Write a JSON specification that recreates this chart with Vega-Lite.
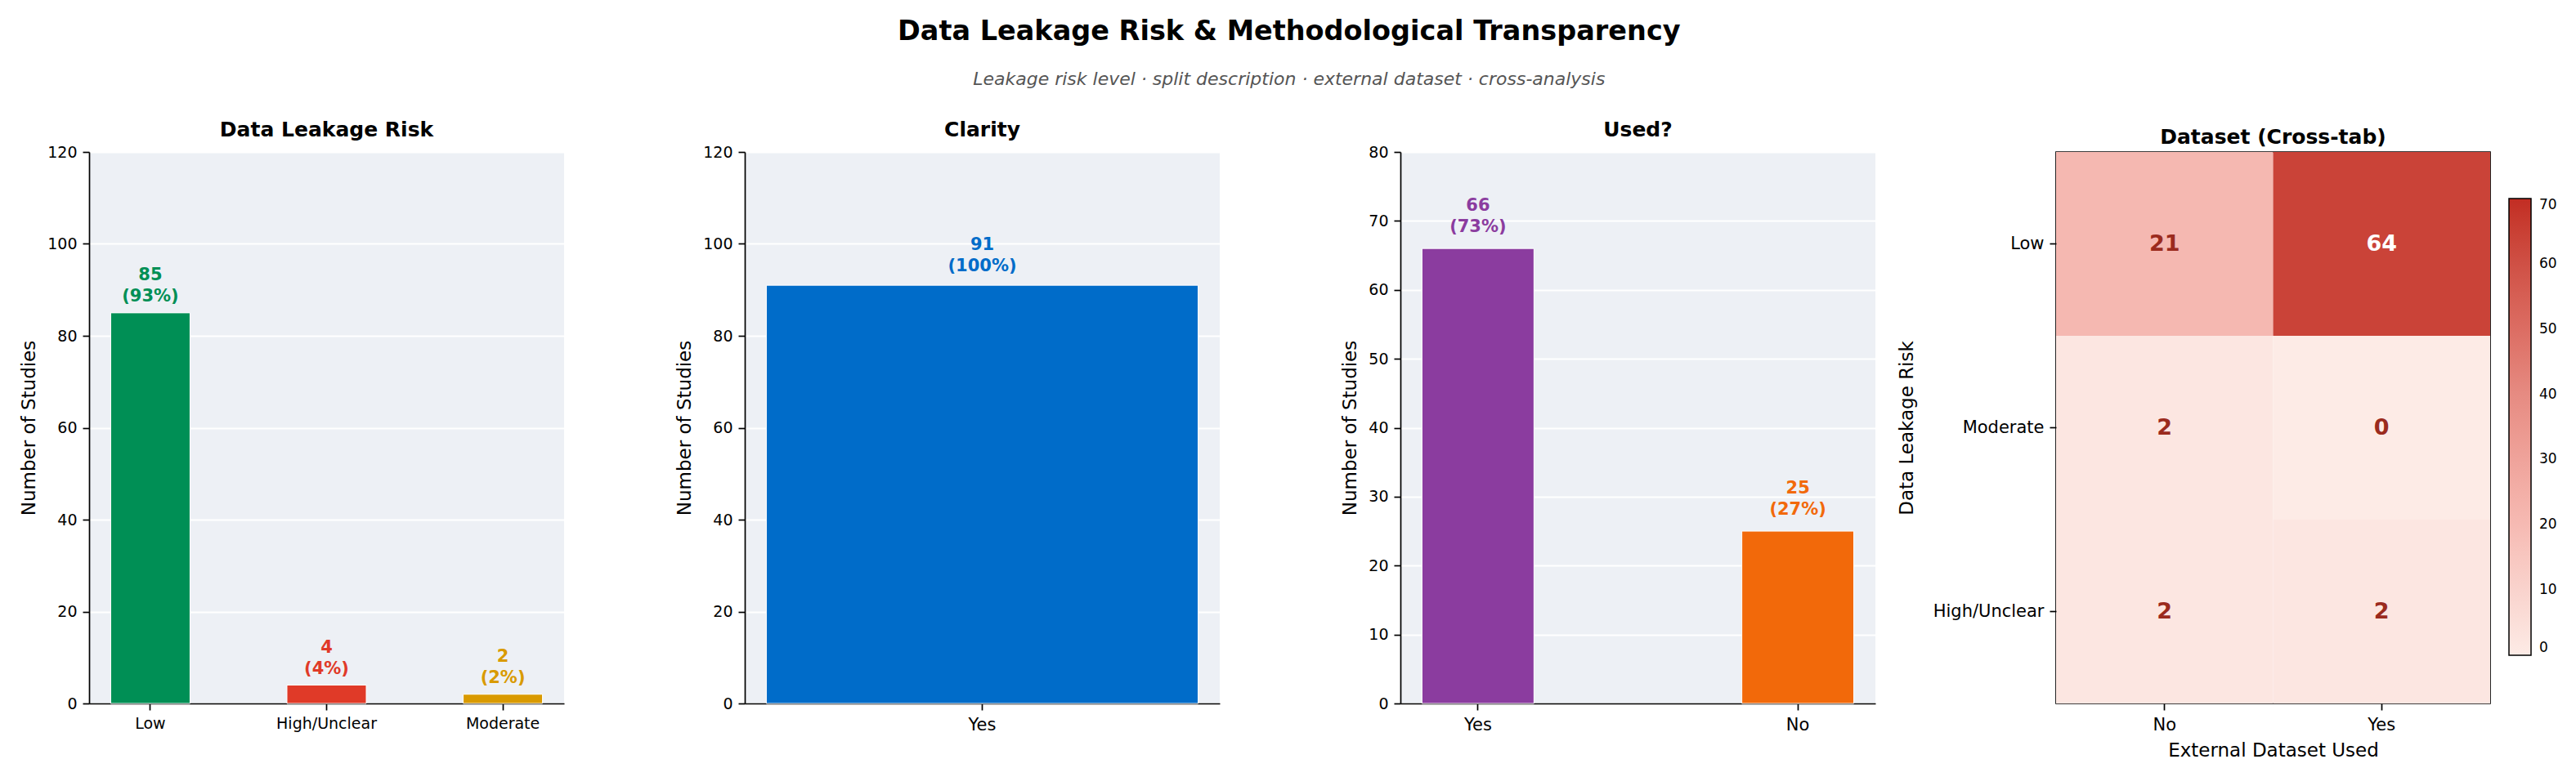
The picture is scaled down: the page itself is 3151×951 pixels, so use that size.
{
  "$schema": "https://vega.github.io/schema/vega-lite/v6.json",
  "padding": {"left": 24, "top": 21, "right": 10, "bottom": 10},
  "background": "white",
  "title": {
    "text": "Data Leakage Risk & Methodological Transparency",
    "subtitle": "Leakage risk level · split description · external dataset · cross-analysis",
    "fontSize": 33.5, "fontWeight": "bold",
    "subtitleFontSize": 22, "subtitleFontStyle": "italic", "subtitleColor": "#555555",
    "subtitlePadding": 31, "offset": 38, "anchor": "middle", "frame": "bounds"
  },
  "datasets": {
    "leak": [
      {"risk": "Low", "n": 85, "label": "85\n(93%)"},
      {"risk": "High/Unclear", "n": 4, "label": "4\n(4%)"},
      {"risk": "Moderate", "n": 2, "label": "2\n(2%)"}
    ],
    "split": [
      {"clear": "Yes", "n": 91, "label": "91\n(100%)"}
    ],
    "ext": [
      {"used": "Yes", "n": 66, "label": "66\n(73%)"},
      {"used": "No", "n": 25, "label": "25\n(27%)"}
    ],
    "cross": [
      {"risk": "Low", "ext": "No", "n": 21},
      {"risk": "Low", "ext": "Yes", "n": 64},
      {"risk": "Moderate", "ext": "No", "n": 2},
      {"risk": "Moderate", "ext": "Yes", "n": 0},
      {"risk": "High/Unclear", "ext": "No", "n": 2},
      {"risk": "High/Unclear", "ext": "Yes", "n": 2}
    ]
  },
  "bounds": "flush",
  "spacing": 221,
  "hconcat": [
    {
      "width": 581, "height": 675,
      "title": "Data Leakage Risk",
      "data": {"name": "leak"},
      "view": {"fill": "#edf0f5", "stroke": null},
      "encoding": {
        "x": {"field": "risk", "type": "nominal", "sort": null,
              "scale": {"paddingInner": 0.55, "paddingOuter": 0.1225},
              "axis": {"title": null, "labelFontSize": 19}},
        "y": {"field": "n", "type": "quantitative", "scale": {"domain": [0, 120]},
              "axis": {"values": [0, 20, 40, 60, 80, 100, 120], "title": "Number of Studies"}},
        "color": {"field": "risk", "type": "nominal",
                  "scale": {"domain": ["Low", "High/Unclear", "Moderate"], "range": ["#008f55", "#e03a28", "#d99a00"]},
                  "legend": null}
      },
      "layer": [
        {"mark": {"type": "bar", "stroke": "white", "strokeWidth": 1}},
        {"mark": {"type": "text", "baseline": "alphabetic", "dy": -40, "fontWeight": "bold", "fontSize": 21, "lineBreak": "\n", "lineHeight": 26},
         "encoding": {"text": {"field": "label"}}}
      ]
    },
    {
      "width": 581, "height": 675,
      "title": "Clarity",
      "data": {"name": "split"},
      "view": {"fill": "#edf0f5", "stroke": null},
      "encoding": {
        "x": {"field": "clear", "type": "nominal", "sort": null,
              "scale": {"paddingInner": 0, "paddingOuter": 0.05},
              "axis": {"title": null, "labelFontSize": 21}},
        "y": {"field": "n", "type": "quantitative", "scale": {"domain": [0, 120]},
              "axis": {"values": [0, 20, 40, 60, 80, 100, 120], "title": "Number of Studies"}},
        "color": {"value": "#006cc9"}
      },
      "layer": [
        {"mark": {"type": "bar", "stroke": "white", "strokeWidth": 1}},
        {"mark": {"type": "text", "baseline": "alphabetic", "dy": -43, "fontWeight": "bold", "fontSize": 21, "lineBreak": "\n", "lineHeight": 26},
         "encoding": {"text": {"field": "label"}}}
      ]
    },
    {
      "width": 581, "height": 675,
      "title": "Used?",
      "data": {"name": "ext"},
      "view": {"fill": "#edf0f5", "stroke": null},
      "encoding": {
        "x": {"field": "used", "type": "nominal", "sort": null,
              "scale": {"paddingInner": 0.65, "paddingOuter": 0.0675},
              "axis": {"title": null, "labelFontSize": 21}},
        "y": {"field": "n", "type": "quantitative", "scale": {"domain": [0, 80]},
              "axis": {"values": [0, 10, 20, 30, 40, 50, 60, 70, 80], "title": "Number of Studies"}},
        "color": {"field": "used", "type": "nominal",
                  "scale": {"domain": ["Yes", "No"], "range": ["#8b3c9f", "#f2690a"]},
                  "legend": null}
      },
      "layer": [
        {"mark": {"type": "bar", "stroke": "white", "strokeWidth": 1}},
        {"mark": {"type": "text", "baseline": "alphabetic", "dy": -46, "fontWeight": "bold", "fontSize": 21, "lineBreak": "\n", "lineHeight": 26},
         "encoding": {"text": {"field": "label"}}}
      ]
    },
    {
      "width": 531, "height": 675,
      "title": "Dataset (Cross-tab)",
      "data": {"name": "cross"},
      "view": {"stroke": "black", "strokeWidth": 1.7},
      "encoding": {
        "x": {"field": "ext", "type": "nominal", "sort": ["No", "Yes"],
              "axis": {"title": "External Dataset Used", "labelFontSize": 21, "domain": false}},
        "y": {"field": "risk", "type": "nominal", "sort": ["Low", "Moderate", "High/Unclear"],
              "axis": {"title": "Data Leakage Risk", "labelFontSize": 21, "titlePadding": 20, "domain": false}}
      },
      "layer": [
        {"mark": "rect",
         "encoding": {
           "color": {"field": "n", "type": "quantitative",
                     "scale": {"domain": [0, 10, 20, 30, 40, 50, 60, 70],
                               "range": ["#fdebe6", "#f9d3cd", "#f6bab3", "#efa39b", "#e68b82", "#dc6d63", "#cf5045", "#c22d23"]},
                     "legend": {"orient": "none", "legendX": 554, "legendY": 57, "title": null, "direction": "vertical",
                                "gradientLength": 559, "gradientThickness": 27,
                                "gradientStrokeColor": "black", "gradientStrokeWidth": 1.5,
                                "values": [0, 10, 20, 30, 40, 50, 60, 70],
                                "labelFontSize": 17, "labelOffset": 10, "labelColor": "black", "padding": 0}}
         }},
        {"mark": {"type": "text", "fontSize": 27, "fontWeight": "bold"},
         "encoding": {
           "text": {"field": "n"},
           "color": {"condition": {"test": "datum.n > 40", "value": "white"}, "value": "#9b2b1e"}
         }}
      ]
    }
  ],
  "config": {
    "font": "DejaVu Sans",
    "title": {"fontSize": 25, "fontWeight": "bold", "offset": 5, "frame": "group", "color": "black"},
    "axis": {
      "domainColor": "black", "domainWidth": 1.7,
      "tickColor": "black", "tickWidth": 1.7, "tickSize": 8,
      "labelPadding": 7, "labelColor": "black", "labelFontSize": 19,
      "titleFontSize": 23, "titleFontWeight": "normal", "titleColor": "black", "titlePadding": 10,
      "gridColor": "white", "gridWidth": 2
    },
    "axisX": {"labelAngle": 0},
    "view": {"stroke": null}
  }
}
